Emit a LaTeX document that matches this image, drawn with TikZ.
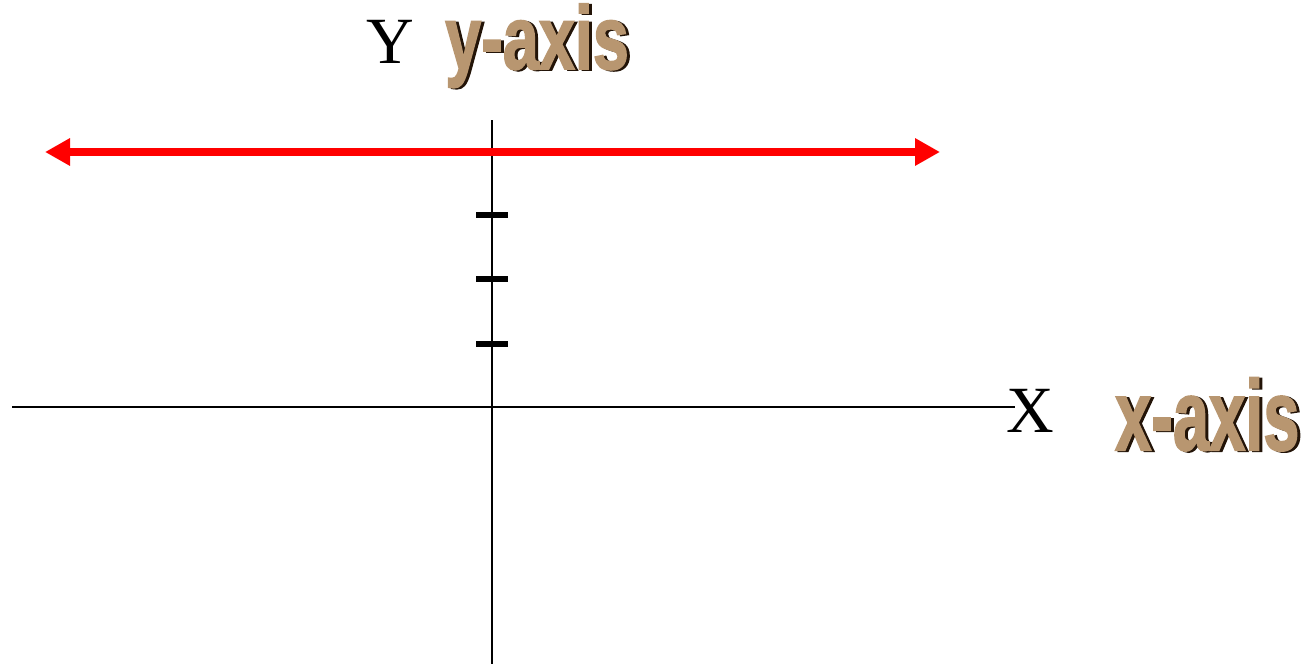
\documentclass[tikz,border=0pt]{standalone}
\usepackage{fontspec}
\setmainfont{Liberation Serif}
\newfontfamily\labelfont[FakeBold=2]{Liberation Sans}
\usetikzlibrary{arrows.meta}
\definecolor{tan}{RGB}{184,150,112}
\definecolor{darkbrown}{RGB}{35,20,8}
\definecolor{arrowred}{RGB}{255,0,0}
\tikzset{
  axisline/.style={line width=2.2pt, black},
  tickmark/.style={line width=6pt, black},
  redarrow/.style={line width=8pt, arrowred, {Triangle[length=25pt,width=26pt]}-{Triangle[length=25pt,width=26pt]}},
  letter/.style={font=\fontsize{66}{70}\selectfont, inner sep=0pt, anchor=base},
  fancyshadow/.style={text=darkbrown, inner sep=0pt, anchor=base west},
  fancy/.style={text=tan, inner sep=0pt, anchor=base west},
}
\begin{document}
\begin{tikzpicture}[x=1pt,y=-1pt]
\useasboundingbox (0,0) rectangle (1307,664);
% axes
\coordinate (vtop) at (492,120);
\coordinate (vbot) at (492,664);
\coordinate (hleft) at (12,407);
\coordinate (hright) at (1015,407);
\draw[axisline] (vtop) -- (vbot);
\draw[axisline] (hleft) -- (hright);
% ticks
\coordinate (t1a) at (476,215); \coordinate (t1b) at (508,215);
\coordinate (t2a) at (476,279); \coordinate (t2b) at (508,279);
\coordinate (t3a) at (476,344); \coordinate (t3b) at (508,344);
\draw[tickmark] (t1a) -- (t1b);
\draw[tickmark] (t2a) -- (t2b);
\draw[tickmark] (t3a) -- (t3b);
% red arrow
\coordinate (aL) at (45,152);
\coordinate (aR) at (940,152);
\draw[redarrow] (aL) -- (aR);
% letters
\node[letter] (Y) at (390,63) {Y};
\node[letter] (X) at (1030,432) {X};
% fancy labels
\node[fancyshadow, xscale=0.72, font=\labelfont\bfseries\fontsize{90}{90}\selectfont] (yaxsh) at (448,70) {y-axis};
\node[fancy, xscale=0.72, font=\labelfont\bfseries\fontsize{90}{90}\selectfont] (yax) at (445,69) {y-axis};
\node[fancyshadow, xscale=0.65, font=\labelfont\bfseries\fontsize{100}{100}\selectfont] (xaxsh) at (1118,451) {x-axis};
\node[fancy, xscale=0.65, font=\labelfont\bfseries\fontsize{100}{100}\selectfont] (xax) at (1115,450) {x-axis};
\end{tikzpicture}
\end{document}
